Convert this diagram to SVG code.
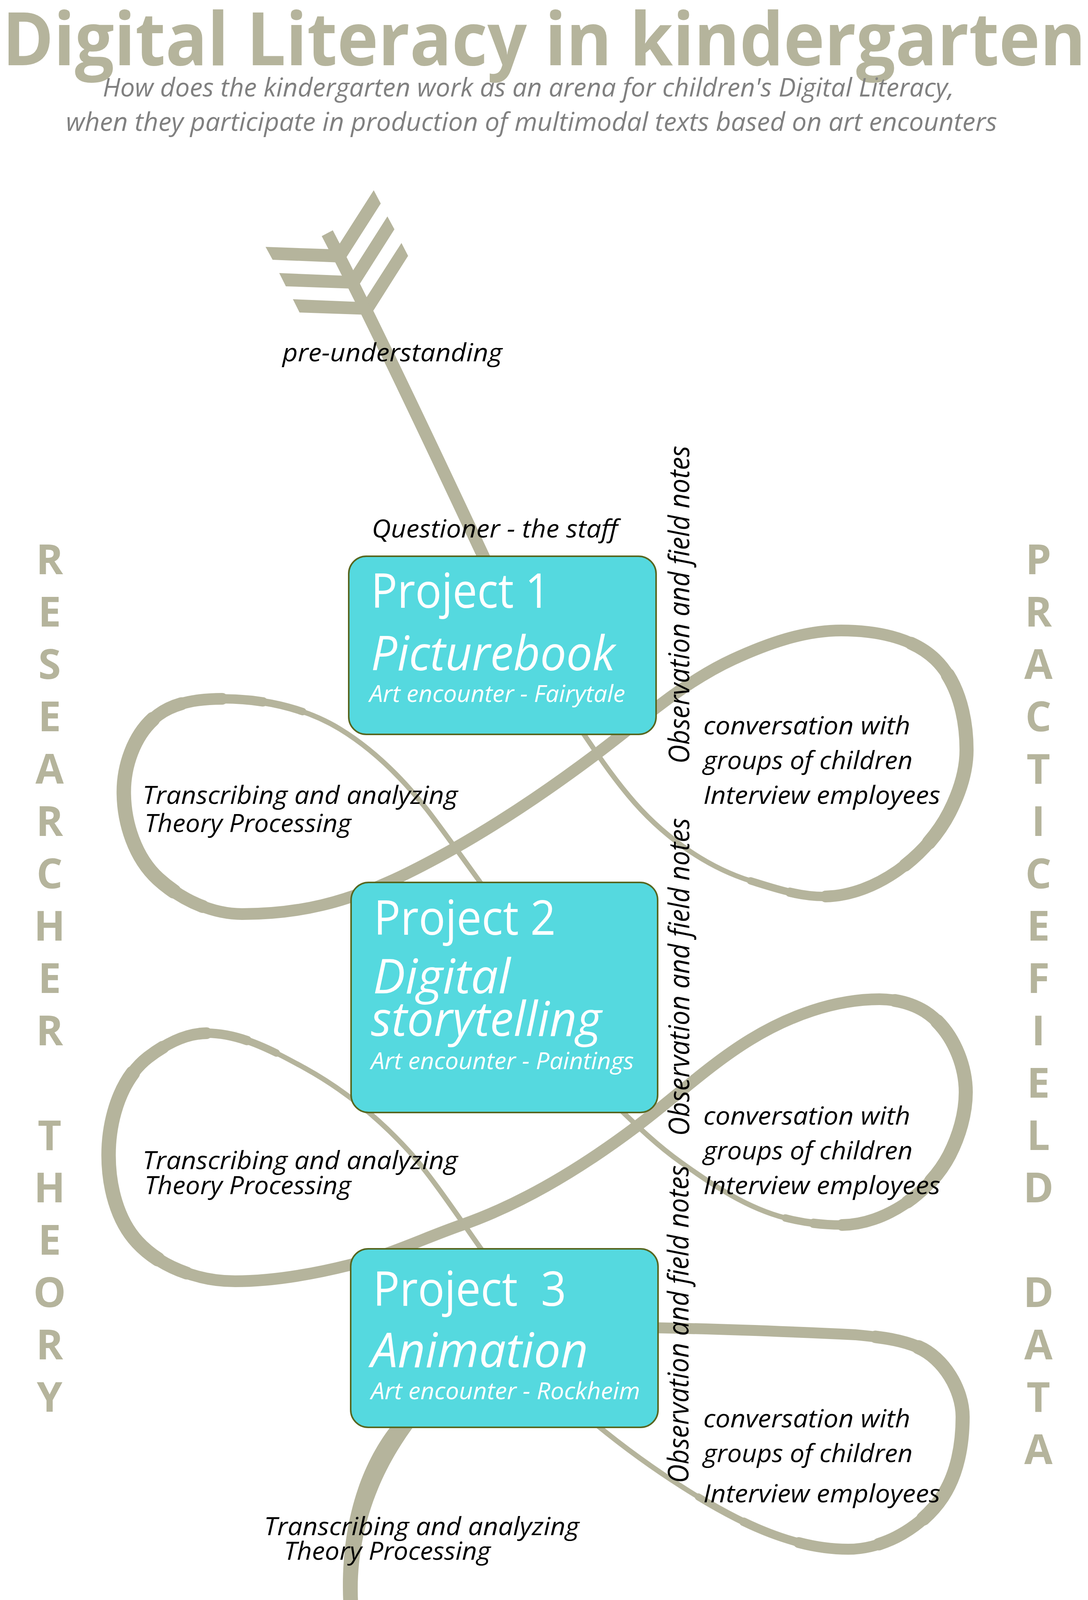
<svg xmlns="http://www.w3.org/2000/svg" width="2786" height="4801" viewBox="0 0 2786 4801">
<style>
.ln{fill:none;stroke:#b5b49c;stroke-width:13;stroke-linecap:round;stroke-linejoin:round}
.k{fill:#b5b49c}
.box{fill:#55d9df;stroke:#57661f;stroke-width:4}
.t{font-family:'Open Sans','Noto Sans','DejaVu Sans',sans-serif;font-style:italic;font-size:64px;fill:#000}
.bt{font-family:'Open Sans','Noto Sans','DejaVu Sans',sans-serif;fill:#fff}
.bi{font-style:italic}
.big{font-family:'Open Sans','Noto Sans','DejaVu Sans',sans-serif;font-weight:bold;fill:#b5b49c}
.col{font-family:'Open Sans','Noto Sans','DejaVu Sans',sans-serif;font-weight:bold;font-size:105px;fill:#b5b49c;text-anchor:middle}
.sub{font-family:'Open Sans','Noto Sans','DejaVu Sans',sans-serif;font-style:italic;font-size:66px;fill:#808080}
</style>
<defs>
<path id="inf" d="M 1420,1770 C 1483,1858 1539,1952 1609,2036 C 1690,2134 1801,2217 1922,2255 C 1983,2274 2045,2295 2109,2295 C 2238,2295 2372,2195 2431,2080 C 2456,2031 2475,1975 2475,1920 C 2475,1838 2454,1745 2395,1688 C 2335,1630 2238,1614 2154,1614 C 2058,1614 1964,1648 1877,1688 C 1749,1747 1642,1844 1529,1929 C 1412,2017 1290,2100 1163,2172 C 1056,2232 944,2289 825,2317 C 758,2333 689,2340 620,2340 C 542,2340 463,2303 405,2250 C 346,2196 317,2107 317,2027 C 317,1955 347,1873 405,1830 C 451,1796 514,1789 571,1789 C 674,1789 781,1812 870,1866 C 957,1919 1030,1992 1093,2072 C 1136,2127 1224,2252 1260,2300 M 1480,2740 C 1570,2817 1647,2907 1743,2975 C 1825,3034 1913,3093 2011,3118 C 2058,3130 2106,3136 2154,3136 C 2264,3136 2380,3055 2431,2957 C 2456,2908 2473,2851 2473,2796 C 2473,2719 2433,2630 2368,2589 C 2334,2568 2292,2558 2252,2558 C 2137,2558 2020,2601 1922,2661 C 1817,2725 1726,2812 1627,2886 C 1491,2988 1342,3080 1182,3136 C 1087,3169 995,3214 897,3238 C 801,3262 701,3280 602,3280 C 512,3280 413,3246 352,3180 C 299,3123 278,3035 278,2957 C 278,2867 308,2762 379,2707 C 422,2674 476,2645 530,2645 C 618,2645 703,2692 780,2734 C 880,2789 972,2864 1048,2948 C 1115,3022 1210,3170 1270,3250 M 1460,3590 C 1562,3680 1671,3761 1788,3832 C 1905,3903 2036,3966 2172,3966 C 2264,3966 2362,3909 2413,3832 C 2452,3773 2465,3697 2465,3627 C 2465,3556 2415,3475 2350,3448 C 2300,3427 2244,3422 2190,3417 C 2000,3408 1800,3400 1600,3398"/>
<path id="T1" pathLength="1000" d="M 1922,2255 C 1983,2274 2045,2295 2109,2295 C 2238,2295 2372,2195 2431,2080 C 2456,2031 2475,1975 2475,1920 C 2475,1838 2454,1745 2395,1688 C 2335,1630 2238,1614 2154,1614 C 2058,1614 1964,1648 1877,1688 C 1749,1747 1642,1844 1529,1929 C 1412,2017 1290,2100 1163,2172 C 1056,2232 944,2289 825,2317 C 758,2333 689,2340 620,2340 C 542,2340 463,2303 405,2250 C 346,2196 317,2107 317,2027 C 317,1955 347,1873 405,1830 C 451,1796 514,1789 571,1789 C 674,1789 781,1812 870,1866"/>
<path id="T2" pathLength="1000" d="M 2011,3118 C 2058,3130 2106,3136 2154,3136 C 2264,3136 2380,3055 2431,2957 C 2456,2908 2473,2851 2473,2796 C 2473,2719 2433,2630 2368,2589 C 2334,2568 2292,2558 2252,2558 C 2137,2558 2020,2601 1922,2661 C 1817,2725 1726,2812 1627,2886 C 1491,2988 1342,3080 1182,3136 C 1087,3169 995,3214 897,3238 C 801,3262 701,3280 602,3280 C 512,3280 413,3246 352,3180 C 299,3123 278,3035 278,2957 C 278,2867 308,2762 379,2707 C 422,2674 476,2645 530,2645 C 618,2645 703,2692 780,2734"/>
<path id="T3" pathLength="1000" d="M 1788,3832 C 1905,3903 2036,3966 2172,3966 C 2264,3966 2362,3909 2413,3832 C 2452,3773 2465,3697 2465,3627 C 2465,3556 2415,3475 2350,3448 C 2300,3427 2244,3422 2190,3417 C 2000,3408 1800,3400 1600,3398"/>
<path id="chev" d="M 764,4260 Q 895,4312 1011,4414 Q 1072,4280 1176,4174 L 1187,4226 Q 1094,4325 1025,4483 Q 906,4361 774,4310 Z"/>
</defs>
<rect width="2786" height="4801" fill="#fff"/>

<g id="connectors">
  <!-- top arrow: fletching and shaft -->
  <path class="ln" style="stroke-width:32;stroke-linecap:butt" d="M 838,597 Q 960,830 1250,1450"/>
  <polygon class="k" points="680,632 851,638 869,672 698,665"/>
  <polygon class="k" points="715,699 886,706 904,739 732,733"/>
  <polygon class="k" points="750,766 921,773 943,806 767,800"/>
  <polygon class="k" points="865,631 957,487 975,521 883,665"/>
  <polygon class="k" points="901,697 992,554 1010,587 918,732"/>
  <polygon class="k" points="936,765 1028,622 1045,655 955,797"/>
  <!-- infinity loops: thin base line -->
  <use href="#inf" class="ln"/>
  <!-- thicker outer parts of the loops, tapered -->
  <g fill="none" stroke="#b5b49c" stroke-linecap="round" stroke-linejoin="round">
    <use href="#T1" stroke-width="19" stroke-dasharray="975 3000"/>
    <use href="#T1" stroke-width="24" stroke-dasharray="925 3000" stroke-dashoffset="-25"/>
    <use href="#T1" stroke-width="30" stroke-dasharray="878 3000" stroke-dashoffset="-47"/>
    <use href="#T1" stroke-width="33" stroke-dasharray="160 3000" stroke-dashoffset="-100"/>
    <use href="#T1" stroke-width="36" stroke-dasharray="110 3000" stroke-dashoffset="-120"/>
    <use href="#T1" stroke-width="33" stroke-dasharray="160 3000" stroke-dashoffset="-740"/>
    <use href="#T1" stroke-width="37" stroke-dasharray="120 3000" stroke-dashoffset="-760"/>

    <use href="#T2" stroke-width="19" stroke-dasharray="980 3000"/>
    <use href="#T2" stroke-width="24" stroke-dasharray="942 3000" stroke-dashoffset="-18"/>
    <use href="#T2" stroke-width="30" stroke-dasharray="898 3000" stroke-dashoffset="-36"/>
    <use href="#T2" stroke-width="33" stroke-dasharray="160 3000" stroke-dashoffset="-80"/>
    <use href="#T2" stroke-width="36" stroke-dasharray="110 3000" stroke-dashoffset="-100"/>
    <use href="#T2" stroke-width="33" stroke-dasharray="175 3000" stroke-dashoffset="-730"/>
    <use href="#T2" stroke-width="37" stroke-dasharray="130 3000" stroke-dashoffset="-750"/>

    <use href="#T3" stroke-width="18" stroke-dasharray="1000 3000"/>
    <use href="#T3" stroke-width="22" stroke-dasharray="930 3000" stroke-dashoffset="-70"/>
    <use href="#T3" stroke-width="28" stroke-dasharray="850 3000" stroke-dashoffset="-150"/>
    <use href="#T3" stroke-width="32" stroke-dasharray="400 3000" stroke-dashoffset="-260"/>
    <use href="#T3" stroke-width="36" stroke-dasharray="270 3000" stroke-dashoffset="-330"/>
  </g>
  <!-- bottom curve and arrowhead -->
  <path class="k" d="M 1010,3640 C 920,3750 878,3900 878,4060 C 878,4200 910,4300 975,4395 L 1025,4405 C 960,4310 916,4200 916,4070 C 916,3930 960,3780 1068,3640 Z"/>
  <use href="#chev" class="k"/>
  <use href="#chev" class="k" x="25" y="122"/>
</g>

<g id="project1">
  <rect class="box" x="893" y="1424" width="787" height="456" rx="45"/>
  <text class="bt" x="950" y="1556" font-size="122" textLength="459" lengthAdjust="spacingAndGlyphs">Project 1</text>
  <text class="bt bi" x="950" y="1716" font-size="122" textLength="625" lengthAdjust="spacingAndGlyphs">Picturebook</text>
  <text class="bt bi" x="946" y="1797" font-size="60" textLength="655" lengthAdjust="spacingAndGlyphs">Art encounter - Fairytale</text>
</g>
<g id="project2">
  <rect class="box" x="899" y="2259" width="785" height="589" rx="45"/>
  <text class="bt" x="957" y="2393" font-size="122" textLength="466" lengthAdjust="spacingAndGlyphs">Project 2</text>
  <text class="bt bi" x="955" y="2543" font-size="122" textLength="352" lengthAdjust="spacingAndGlyphs">Digital</text>
  <text class="bt bi" x="950" y="2652" font-size="122" textLength="590" lengthAdjust="spacingAndGlyphs">storytelling</text>
  <text class="bt bi" x="950" y="2737" font-size="60" textLength="673" lengthAdjust="spacingAndGlyphs">Art encounter - Paintings</text>
</g>
<g id="project3">
  <rect class="box" x="898" y="3197" width="787" height="457" rx="45"/>
  <text class="bt" x="955" y="3343" font-size="122" textLength="495" lengthAdjust="spacingAndGlyphs">Project&#160;&#160;3</text>
  <text class="bt bi" x="950" y="3500" font-size="122" textLength="556" lengthAdjust="spacingAndGlyphs">Animation</text>
  <text class="bt bi" x="950" y="3582" font-size="60" textLength="689" lengthAdjust="spacingAndGlyphs">Art encounter - Rockheim</text>
</g>

<g id="titles">
  <text class="big" x="6" y="167" font-size="189" textLength="2774" lengthAdjust="spacingAndGlyphs">Digital Literacy in kindergarten</text>
  <text class="sub" x="263" y="247" textLength="2180" lengthAdjust="spacingAndGlyphs">How does the kindergarten work as an arena for children's Digital Literacy,</text>
  <text class="sub" x="169" y="335" textLength="2384" lengthAdjust="spacingAndGlyphs">when they participate in production of multimodal texts based on art encounters</text>
  <text class="big" x="113" y="4750" font-size="182" textLength="2295" lengthAdjust="spacingAndGlyphs">Meaning and implications</text>
</g>

<g id="side-labels">
  <text class="col"><tspan x="127" y="1470">R</tspan><tspan x="127" y="1604">E</tspan><tspan x="127" y="1738">S</tspan><tspan x="127" y="1872">E</tspan><tspan x="127" y="2006">A</tspan><tspan x="127" y="2140">R</tspan><tspan x="127" y="2274">C</tspan><tspan x="127" y="2408">H</tspan><tspan x="127" y="2542">E</tspan><tspan x="127" y="2676">R</tspan><tspan x="127" y="2944">T</tspan><tspan x="127" y="3078">H</tspan><tspan x="127" y="3212">E</tspan><tspan x="127" y="3346">O</tspan><tspan x="127" y="3480">R</tspan><tspan x="127" y="3614">Y</tspan></text>
  <text class="col"><tspan x="2659" y="1470">P</tspan><tspan x="2659" y="1604">R</tspan><tspan x="2659" y="1738">A</tspan><tspan x="2659" y="1872">C</tspan><tspan x="2659" y="2006">T</tspan><tspan x="2659" y="2140">I</tspan><tspan x="2659" y="2274">C</tspan><tspan x="2659" y="2408">E</tspan><tspan x="2659" y="2542">F</tspan><tspan x="2659" y="2676">I</tspan><tspan x="2659" y="2810">E</tspan><tspan x="2659" y="2944">L</tspan><tspan x="2659" y="3078">D</tspan><tspan x="2659" y="3346">D</tspan><tspan x="2659" y="3480">A</tspan><tspan x="2659" y="3614">T</tspan><tspan x="2659" y="3748">A</tspan></text>
</g>

<g id="labels">
  <text class="t" x="723" y="925" textLength="563" lengthAdjust="spacingAndGlyphs">pre-understanding</text>
  <text class="t" x="952" y="1376" textLength="630" lengthAdjust="spacingAndGlyphs">Questioner - the staff</text>

  <text class="t" x="365" y="2058" textLength="807" lengthAdjust="spacingAndGlyphs">Transcribing and analyzing</text>
  <text class="t" x="370" y="2130" textLength="529" lengthAdjust="spacingAndGlyphs">Theory Processing</text>
  <text class="t" x="365" y="2993" textLength="807" lengthAdjust="spacingAndGlyphs">Transcribing and analyzing</text>
  <text class="t" x="370" y="3057" textLength="529" lengthAdjust="spacingAndGlyphs">Theory Processing</text>
  <text class="t" x="676" y="3930" textLength="807" lengthAdjust="spacingAndGlyphs">Transcribing and analyzing</text>
  <text class="t" x="727" y="3993" textLength="529" lengthAdjust="spacingAndGlyphs">Theory Processing</text>
  <text class="t" x="600" y="4519" textLength="1003" lengthAdjust="spacingAndGlyphs">Interpretation and understanding</text>

  <text class="t" x="1801" y="1880" textLength="530" lengthAdjust="spacingAndGlyphs">conversation with</text>
  <text class="t" x="1801" y="1969" textLength="536" lengthAdjust="spacingAndGlyphs">groups of children</text>
  <text class="t" x="1801" y="2058" textLength="607" lengthAdjust="spacingAndGlyphs">Interview employees</text>
  <text class="t" x="1801" y="2879" textLength="530" lengthAdjust="spacingAndGlyphs">conversation with</text>
  <text class="t" x="1801" y="2968" textLength="536" lengthAdjust="spacingAndGlyphs">groups of children</text>
  <text class="t" x="1801" y="3057" textLength="607" lengthAdjust="spacingAndGlyphs">Interview employees</text>
  <text class="t" x="1801" y="3654" textLength="530" lengthAdjust="spacingAndGlyphs">conversation with</text>
  <text class="t" x="1801" y="3743" textLength="536" lengthAdjust="spacingAndGlyphs">groups of children</text>
  <text class="t" x="1801" y="3846" textLength="607" lengthAdjust="spacingAndGlyphs">Interview employees</text>

  <text class="t" style="font-size:74px" transform="translate(1765,1955) rotate(-90)" textLength="814" lengthAdjust="spacingAndGlyphs">Observation and field notes</text>
  <text class="t" style="font-size:74px" transform="translate(1765,2908) rotate(-90)" textLength="814" lengthAdjust="spacingAndGlyphs">Observation and field notes</text>
  <text class="t" style="font-size:74px" transform="translate(1763,3797) rotate(-90)" textLength="814" lengthAdjust="spacingAndGlyphs">Observation and field notes</text>
</g>
</svg>
